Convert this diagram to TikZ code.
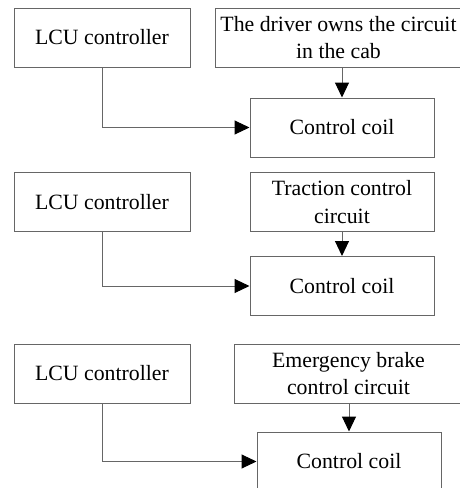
\documentclass[tikz,border=0pt]{standalone}
\usepackage{fontspec}
\setmainfont{Liberation Serif}
\usetikzlibrary{arrows.meta}

\begin{document}
\begin{tikzpicture}[x=0.5pt, y=-0.5pt,
    box/.style={draw=black!60, line width=0.5pt, inner sep=0pt, align=center,
      minimum height=29.5pt, font=\fontsize{10.9}{13.8}\selectfont},
    link/.style={draw=black!60, line width=0.5pt,
      -{Triangle[length=7.5pt, width=7pt, color=black]}}]
  \useasboundingbox (0,0) rectangle (460,488);
  \clip (0,0) rectangle (460,488);
  % first group
  \node[box, minimum width=88pt] (lcuA) at (102,37.5) {LCU controller};
  \node[box, minimum width=123.5pt] (driver) at (338.5,37.5) {The driver owns the circuit\\in the cab};
  \node[box, minimum width=92pt] (coilA) at (342,127.5) {Control coil};
  \draw[link] (lcuA.south) |- (coilA.west);
  \draw[link] (coilA.north |- driver.south) -- (coilA.north);
  % second group
  \node[box, minimum width=88pt] (lcuB) at (102,202) {LCU controller};
  \node[box, minimum width=92pt] (traction) at (342,202) {Traction control\\circuit};
  \node[box, minimum width=92pt] (coilB) at (342,286) {Control coil};
  \draw[link] (lcuB.south) |- (coilB.west);
  \draw[link] (traction.south) -- (coilB.north);
  % third group
  \node[box, minimum width=88pt] (lcuC) at (102,373.5) {LCU controller};
  \node[box, minimum width=114.5pt] (brake) at (348.5,373.5) {Emergency brake\\control circuit};
  \node[box, minimum width=92pt] (coilC) at (349,461.5) {Control coil};
  \draw[link] (lcuC.south) |- (coilC.west);
  \draw[link] (coilC.north |- brake.south) -- (coilC.north);
\end{tikzpicture}
\end{document}
